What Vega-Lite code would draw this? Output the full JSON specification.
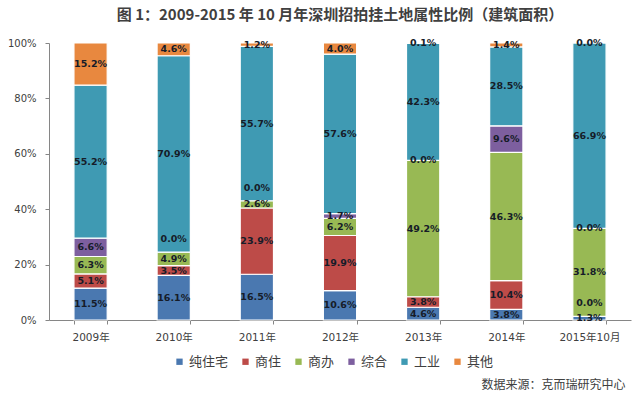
{
  "$schema": "https://vega.github.io/schema/vega-lite/v6.json",
  "autosize": "none",
  "width": 582,
  "height": 277,
  "padding": {"left": 49, "top": 43, "right": 9, "bottom": 75},
  "background": "white",
  "title": {
    "text": "图 1：2009-2015 年 10 月年深圳招拍挂土地属性比例（建筑面积）",
    "anchor": "middle",
    "font": "Noto Sans CJK SC",
    "fontSize": 15,
    "fontWeight": "bold",
    "color": "#404040",
    "offset": 15
  },
  "data": {
    "values": [
      {"year": "2009年", "series": "纯住宅", "k": 1, "value": 0.115},
      {"year": "2009年", "series": "商住", "k": 2, "value": 0.051},
      {"year": "2009年", "series": "商办", "k": 3, "value": 0.063},
      {"year": "2009年", "series": "综合", "k": 4, "value": 0.066},
      {"year": "2009年", "series": "工业", "k": 5, "value": 0.552},
      {"year": "2009年", "series": "其他", "k": 6, "value": 0.152},
      {"year": "2010年", "series": "纯住宅", "k": 1, "value": 0.161},
      {"year": "2010年", "series": "商住", "k": 2, "value": 0.035},
      {"year": "2010年", "series": "商办", "k": 3, "value": 0.049},
      {"year": "2010年", "series": "综合", "k": 4, "value": 0.0},
      {"year": "2010年", "series": "工业", "k": 5, "value": 0.709},
      {"year": "2010年", "series": "其他", "k": 6, "value": 0.046},
      {"year": "2011年", "series": "纯住宅", "k": 1, "value": 0.165},
      {"year": "2011年", "series": "商住", "k": 2, "value": 0.239},
      {"year": "2011年", "series": "商办", "k": 3, "value": 0.026},
      {"year": "2011年", "series": "综合", "k": 4, "value": 0.0},
      {"year": "2011年", "series": "工业", "k": 5, "value": 0.557},
      {"year": "2011年", "series": "其他", "k": 6, "value": 0.012},
      {"year": "2012年", "series": "纯住宅", "k": 1, "value": 0.106},
      {"year": "2012年", "series": "商住", "k": 2, "value": 0.199},
      {"year": "2012年", "series": "商办", "k": 3, "value": 0.062},
      {"year": "2012年", "series": "综合", "k": 4, "value": 0.017},
      {"year": "2012年", "series": "工业", "k": 5, "value": 0.576},
      {"year": "2012年", "series": "其他", "k": 6, "value": 0.040},
      {"year": "2013年", "series": "纯住宅", "k": 1, "value": 0.046},
      {"year": "2013年", "series": "商住", "k": 2, "value": 0.038},
      {"year": "2013年", "series": "商办", "k": 3, "value": 0.492},
      {"year": "2013年", "series": "综合", "k": 4, "value": 0.0},
      {"year": "2013年", "series": "工业", "k": 5, "value": 0.423},
      {"year": "2013年", "series": "其他", "k": 6, "value": 0.001},
      {"year": "2014年", "series": "纯住宅", "k": 1, "value": 0.038},
      {"year": "2014年", "series": "商住", "k": 2, "value": 0.104},
      {"year": "2014年", "series": "商办", "k": 3, "value": 0.463},
      {"year": "2014年", "series": "综合", "k": 4, "value": 0.096},
      {"year": "2014年", "series": "工业", "k": 5, "value": 0.285},
      {"year": "2014年", "series": "其他", "k": 6, "value": 0.014},
      {"year": "2015年10月", "series": "纯住宅", "k": 1, "value": 0.013},
      {"year": "2015年10月", "series": "商住", "k": 2, "value": 0.0},
      {"year": "2015年10月", "series": "商办", "k": 3, "value": 0.318},
      {"year": "2015年10月", "series": "综合", "k": 4, "value": 0.0},
      {"year": "2015年10月", "series": "工业", "k": 5, "value": 0.669},
      {"year": "2015年10月", "series": "其他", "k": 6, "value": 0.0}
    ]
  },
  "transform": [
    {"stack": "value", "groupby": ["year"], "sort": [{"field": "k", "order": "ascending"}], "offset": "normalize", "as": ["v0", "v1"]},
    {"calculate": "(datum.v0 + datum.v1) / 2", "as": "vmid"}
  ],
  "encoding": {
    "x": {
      "field": "year",
      "type": "nominal",
      "sort": null,
      "scale": {"paddingInner": 0.6, "paddingOuter": 0.3},
      "axis": {
        "title": "数据来源：克而瑞研究中心",
        "titleFont": "Noto Sans CJK SC",
        "titleFontSize": 12,
        "titleFontWeight": "normal",
        "titleColor": "#404040",
        "titleAnchor": "end",
        "titleAlign": "right",
        "titleBaseline": "middle",
        "titleX": 576,
        "titleY": 64,
        "labelAngle": 0,
        "labelFont": "DejaVu Sans, Noto Sans CJK SC",
        "labelFontSize": 10.5,
        "labelColor": "#404040",
        "labelPadding": 8,
        "tickBand": "extent",
        "tickSize": 4,
        "tickColor": "#868686",
        "domainColor": "#868686",
        "grid": false
      }
    }
  },
  "layer": [
    {
      "mark": {"type": "bar", "stroke": "white", "strokeWidth": 1.2},
      "encoding": {
        "y": {
          "field": "v0",
          "type": "quantitative",
          "scale": {"domain": [0, 1], "nice": false},
          "axis": {
            "title": null,
            "format": ".0%",
            "values": {"signal": "sequence(0, 1.05, 0.1)"},
            "tickCount": {"signal": "10"},
            "labelOverlap": false,
            "labelFlush": false,
            "grid": false,
            "labelFont": "DejaVu Sans",
            "labelFontSize": 10,
            "labelColor": "#404040",
            "labelPadding": 9,
            "tickSize": 4,
            "tickColor": "#868686",
            "domainColor": "#868686"
          }
        },
        "y2": {"field": "v1"},
        "color": {
          "field": "series",
          "type": "nominal",
          "scale": {
            "domain": ["纯住宅", "商住", "商办", "综合", "工业", "其他"],
            "range": ["#4a78b0", "#bd4b48", "#98b954", "#7d5f9f", "#3f9ab3", "#e8883f"]
          },
          "legend": {
            "title": null,
            "orient": "none",
            "direction": "horizontal",
            "legendX": 124,
            "legendY": 312,
            "symbolType": "square",
            "symbolSize": 40,
            "symbolStrokeWidth": 0,
            "labelFont": "Noto Sans CJK SC",
            "labelFontSize": 13,
            "labelColor": "#404040",
            "labelOffset": 3,
            "columnPadding": 10
          }
        }
      }
    },
    {
      "transform": [
        {"filter": "!((datum.year == '2010年' && datum.series == '综合') || (datum.year == '2011年' && datum.series == '综合') || (datum.year == '2015年10月' && datum.series == '商住'))"}
      ],
      "mark": {
        "type": "text",
        "font": "DejaVu Sans",
        "fontSize": 9.5,
        "fontWeight": "bold",
        "color": "#161c28",
        "baseline": "middle",
        "align": "center"
      },
      "encoding": {
        "y": {"field": "vmid", "type": "quantitative"},
        "text": {"field": "value", "type": "quantitative", "format": ".1%"}
      }
    },
    {
      "transform": [
        {"filter": "(datum.year == '2010年' && datum.series == '综合') || (datum.year == '2011年' && datum.series == '综合') || (datum.year == '2015年10月' && datum.series == '商住')"}
      ],
      "mark": {
        "type": "text",
        "font": "DejaVu Sans",
        "fontSize": 9.5,
        "fontWeight": "bold",
        "color": "#161c28",
        "baseline": "middle",
        "align": "center",
        "dy": -13
      },
      "encoding": {
        "y": {"field": "vmid", "type": "quantitative"},
        "text": {"field": "value", "type": "quantitative", "format": ".1%"}
      }
    }
  ],
  "config": {"view": {"stroke": null}}
}
